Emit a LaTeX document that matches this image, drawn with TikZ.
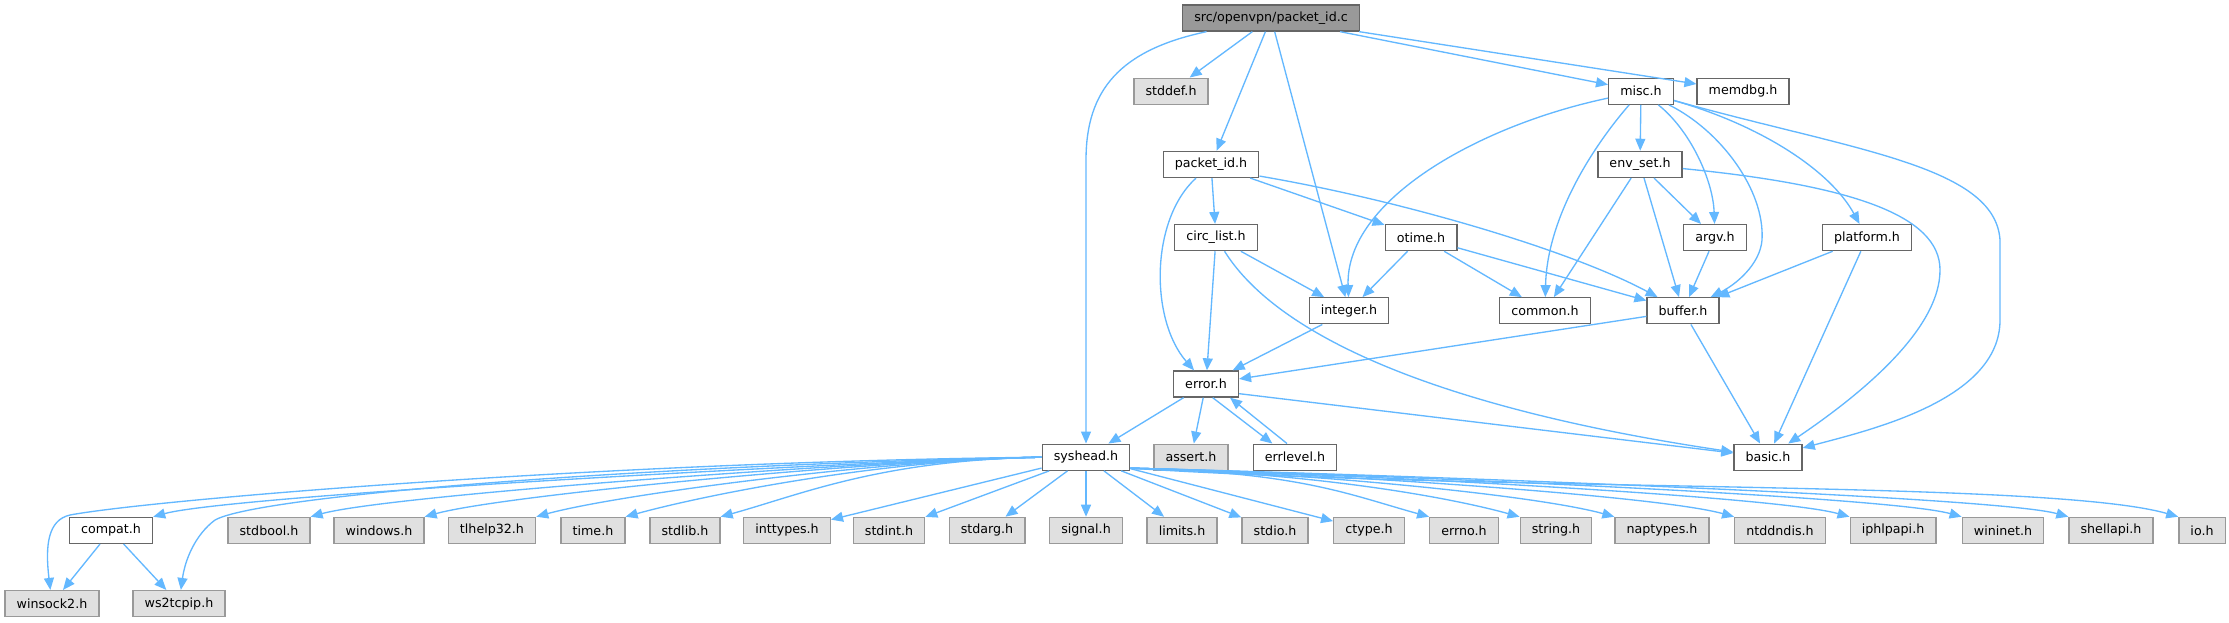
\documentclass[tikz,border=0pt]{standalone}
\usepackage{fontspec}
\setmainfont{DejaVu Sans}
\usetikzlibrary{arrows.meta,calc}
\definecolor{edgeblue}{HTML}{63B8FF}
\definecolor{boxline}{HTML}{666666}
\definecolor{extline}{HTML}{999999}
\definecolor{extfill}{HTML}{E0E0E0}
\definecolor{rootfill}{HTML}{999999}

\begin{document}
\begin{tikzpicture}[x=0.75pt, y=-0.75pt,
    file/.style={draw=boxline, fill=white, line width=1pt, inner xsep=8.7pt, inner ysep=0pt,
                 minimum height=19.5pt, font=\fontsize{9.5}{11}\selectfont},
    extfile/.style={file, draw=extline, fill=extfill},
    rootfile/.style={file, fill=rootfill},
    dep/.style={color=edgeblue, line width=1pt, -{Triangle[length=9pt,width=7.5pt]}}]
\fill[white] (0,0) rectangle (2229,623);
\useasboundingbox (0,0) rectangle (2229,623);

% project headers
\node[rootfile] (pktc) at (1271,18) {src/openvpn/packet\_id.c};
\node[extfile] (stddef) at (1171,91.2) {stddef.h};
\node[file] (misc) at (1641,91.2) {misc.h};
\node[file] (memdbg) at (1743,91.2) {memdbg.h};
\node[file] (pkth) at (1211,164.4) {packet\_id.h};
\node[file] (envset) at (1640,164.4) {env\_set.h};
\node[file] (circ) at (1216,237.6) {circ\_list.h};
\node[file] (otime) at (1421,237.6) {otime.h};
\node[file] (argv) at (1715,237.6) {argv.h};
\node[file] (platform) at (1867,237.6) {platform.h};
\node[file] (integer) at (1349,310.8) {integer.h};
\node[file] (common) at (1545,310.8) {common.h};
\node[file] (buffer) at (1683,310.8) {buffer.h};
\node[file] (error) at (1206,384) {error.h};
\node[file] (syshead) at (1086,457.2) {syshead.h};
\node[extfile] (assert) at (1191,457.2) {assert.h};
\node[file] (errlevel) at (1295,457.2) {errlevel.h};
\node[file] (basic) at (1768,457.2) {basic.h};
\node[file] (compat) at (111,530.4) {compat.h};

% system headers
\foreach \n/\x/\t in {stdbool/269/stdbool.h, windows/379/windows.h, tlhelp/492/tlhelp32.h,
    time/593/time.h, stdlib/685/stdlib.h, inttypes/787/inttypes.h, stdint/889/stdint.h,
    stdarg/987/stdarg.h, signal/1086/signal.h, limits/1182/limits.h, stdio/1275/stdio.h,
    ctype/1369/ctype.h, errno/1464/errno.h, string/1556/string.h, naptypes/1662/naptypes.h,
    ntddndis/1780/ntddndis.h, iphlpapi/1893/iphlpapi.h, wininet/2003/wininet.h,
    shellapi/2111/shellapi.h, io/2202/io.h}
  \node[extfile] (\n) at (\x,530.4) {\t};
\node[extfile] (winsock) at (52,603.6) {winsock2.h};
\node[extfile] (wstcp) at (179,603.6) {ws2tcpip.h};

% straight includes
\path[dep] (pktc) edge (stddef) edge (pkth) edge (integer) edge (misc) edge (memdbg)
      (pkth) edge (circ) edge (otime)
      (misc) edge (envset)
      (envset) edge (argv) edge (buffer) edge (common)
      (argv) edge (buffer)
      (platform) edge (buffer) edge (basic)
      (otime) edge (integer) edge (common) edge (buffer)
      (circ) edge (integer) edge (error)
      (integer) edge (error)
      (buffer) edge (error) edge (basic)
      (error) edge (syshead) edge (assert)
      (syshead) edge (inttypes) edge (stdint) edge (stdarg) edge (signal)
          edge (limits) edge (stdio) edge (ctype)
      (compat) edge (winsock) edge (wstcp);
\draw[dep] ([yshift=3pt]error.south east) -- (basic);

% curved includes
\draw[dep] (pktc) .. controls (1120,50) and (1086,90) .. (1086,160) -- (syshead);
\draw[dep] (pkth) .. controls (1150,220) and (1150,320) .. (error);
\draw[dep] ([yshift=1.5pt]pkth.south east) .. controls (1400,200) and (1570,250) .. (buffer);
\draw[dep] (misc) .. controls (1480,125) and (1345,200) .. (integer);
\draw[dep] (misc) .. controls (1590,150) and (1547,220) .. (common);
\draw[dep] (misc) .. controls (1690,130) and (1713,180) .. (argv);
\draw[dep] (misc) .. controls (1720,130) and (1765,190) .. (1762,240)
                 .. controls (1760,265) and (1735,285) .. (buffer);
\draw[dep] (misc) .. controls (1760,125) and (1830,170) .. (platform);
\draw[dep] (misc) .. controls (1850,150) and (1995,165) .. (2000,240) -- (2000,320)
                 .. controls (2000,400) and (1870,430) .. (basic);
\draw[dep] (envset) .. controls (1850,185) and (1940,215) .. (1940,270)
                   .. controls (1940,330) and (1860,395) .. (basic);
\draw[dep] (circ) .. controls (1280,340) and (1450,410) .. (basic);
\draw[dep] ([xshift=5pt]error.south) -- ([xshift=-17pt]errlevel.north);
\draw[dep] ([xshift=-6pt]errlevel.north) -- ([xshift=18pt]error.south);

% syshead fan-out
\foreach \t in {compat,stdbool,windows,tlhelp,time,stdlib}
  \draw[dep] (syshead.west) .. controls (880,460) and ($(\t.north east)+(80,-22)$) .. (\t.north east);
\foreach \t in {errno,string,naptypes,ntddndis,iphlpapi,wininet,shellapi}
  \draw[dep] ([yshift=2pt]syshead.south east) .. controls (1300,472) and ($(\t.north west)+(-80,-22)$) .. (\t.north west);
\draw[dep] ([yshift=2pt]syshead.south east) .. controls (1500,492) and (2050,480) .. (io.north west);
\draw[dep] (syshead.west) .. controls (600,462) and (150,500) .. (70,515)
                         .. controls (48,520) and (45,545) .. (winsock);
\draw[dep] (syshead.west) .. controls (650,465) and (260,495) .. (215,520)
                         .. controls (195,535) and (185,560) .. (wstcp);
\end{tikzpicture}
\end{document}
